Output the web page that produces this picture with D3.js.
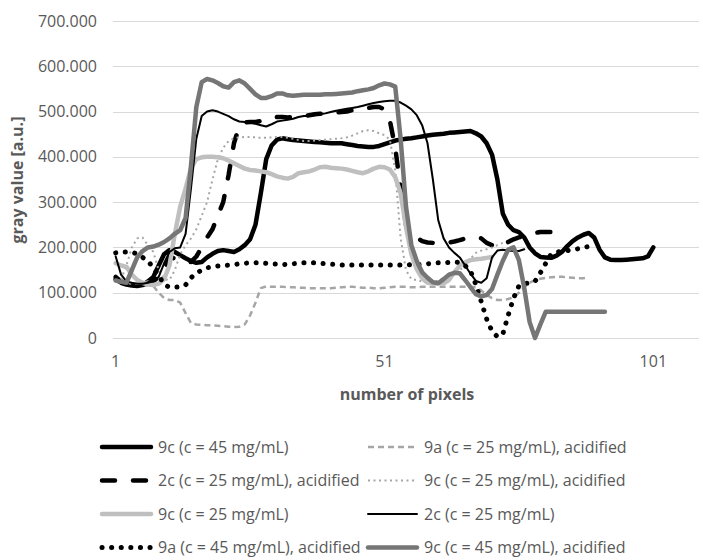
<!DOCTYPE html>
<html>
  <head>
    <meta charset="utf-8">
    <title>gray value profile</title>
    <style>
      body { margin: 0; background: #fff; }
      text { font-family: 'Open Sans', sans-serif; fill: #595959; }
      .tick text { font-size: 16px; }
      .title { font-size: 16px; font-weight: bold; }
      .legend text { font-size: 16px; }
    </style>
  </head>
  <body>
    <div id="chart"></div>
    <script src="https://d3js.org/d3.v7.min.js"></script>
    <script>
      // categories (pixel index) and tick labels
      var categories = d3.range(1, 110);
      var xTickValues = [1, 51, 101];
      var yTickValues = [0, 100, 200, 300, 400, 500, 600, 700];
      var yTickLabels = ['0', '100.000', '200.000', '300.000', '400.000', '500.000', '600.000', '700.000'];

      var seriesNames = [
        '9c (c = 45 mg/mL)',
        '9a (c = 25 mg/mL), acidified',
        '2c (c = 25 mg/mL), acidified',
        '9c (c = 25 mg/mL), acidified',
        '9c (c = 25 mg/mL)',
        '2c (c = 25 mg/mL)',
        '9a (c = 45 mg/mL), acidified',
        '9c (c = 45 mg/mL), acidified'
      ];

      // values from pixel 1 onwards
      var s9c45 = [130,122,118,116,115,117,125,135,160,185,194,190,183,176,170,166,168,178,186,192,
        194,192,190,196,205,218,250,320,395,425,438,441,439,437,436,435,434,433,432,431,
        430,430,430,428,426,424,423,422,422,424,428,432,436,438,440,441,443,445,447,449,
        450,451,453,454,455,456,457,452,445,430,405,350,275,250,238,234,222,200,187,179,
        178,177,182,190,203,214,222,228,232,222,195,178,173,172,172,173,174,175,176,180,200];
      var s9a25acid = [128,125,122,120,120,122,125,115,100,88,84,84,78,55,33,30,29,28,28,27,
        26,25,24,25,30,50,78,110,114,113,113,113,112,112,111,111,110,110,110,110,
        110,111,112,113,113,112,111,111,110,110,111,112,113,113,113,112,112,113,113,113,
        113,113,113,113,113,113,113,112,105,95,88,84,84,86,90,100,113,122,128,131,
        133,134,135,135,134,133,132,132,133];
      var s2c25acid = [135,125,120,118,117,118,120,125,135,150,180,175,170,167,168,180,200,222,240,270,
        300,360,430,468,476,477,477,479,482,486,488,488,487,488,490,490,492,494,495,496,
        497,498,499,500,503,505,507,508,510,510,505,480,420,330,250,230,222,214,211,210,
        210,210,211,213,216,220,222,222,220,210,205,200,205,212,218,222,226,230,232,234,
        234,234];
      var s9c25acid = [125,130,160,200,220,222,205,190,150,130,128,150,185,205,220,240,270,300,350,395,
        420,435,441,443,444,444,443,442,442,443,444,444,442,440,437,435,435,436,437,438,
        439,440,441,443,447,452,457,459,457,452,448,438,370,220,150,130,128,125,124,124,
        127,132,138,144,150,160,175,188,193,196,200,205,210];
      var s9c25 = [165,160,157,140,128,122,118,117,120,130,160,230,290,330,375,395,399,400,400,399,
        397,392,386,380,374,371,370,368,366,362,357,354,352,356,364,366,368,372,377,378,
        376,375,374,372,369,366,364,368,374,378,377,372,355,320,245,185,152,132,122,121,
        121,121,128,145,160,167,172,174,175,177,179];
      var s2c25 = [180,140,125,122,120,120,122,125,135,165,190,198,200,230,330,440,490,500,503,500,
        495,490,483,478,477,476,473,470,467,472,478,480,482,484,488,490,490,492,494,496,
        499,502,504,506,508,510,513,516,519,521,523,524,524,520,513,505,492,470,430,350,
        260,220,200,188,178,160,142,126,122,132,178,193,195,193,192,192,196];
      var s9a45acid = [188,190,190,189,186,178,170,155,138,118,112,112,113,117,133,143,150,155,157,159,
        160,161,162,164,165,166,166,166,165,164,163,162,163,164,165,166,166,166,165,164,
        163,162,161,161,161,161,161,161,161,161,161,161,161,161,161,162,162,163,164,165,
        166,166,167,168,167,160,148,118,80,42,15,3,8,50,88,115,121,121,125,144,
        165,185,190,191,193,195,197,200,202,202];
      var s9c45acid = [127,124,122,150,178,192,200,202,206,212,220,230,238,265,380,510,565,572,569,563,
        556,553,565,569,562,550,538,530,530,534,540,540,536,535,536,537,537,537,537,538,
        538,539,540,541,542,545,547,549,552,558,562,560,555,440,290,205,170,145,133,123,
        121,130,140,144,143,128,112,97,92,95,108,140,170,195,200,172,110,35,0,30,
        58,58,58,58,58,58,58,58,58,58,58,58];

      var seriesValues = [s9c45, s9a25acid, s2c25acid, s9c25acid, s9c25, s2c25, s9a45acid, s9c45acid];

      var styles = [
        { color: '#000000', width: 4.5, dash: null, cap: 'round' },
        { color: '#a6a6a6', width: 2.5, dash: '6 4', cap: 'butt' },
        { color: '#000000', width: 4.5, dash: '13 18', cap: 'round' },
        { color: '#a6a6a6', width: 2, dash: '2 3.5', cap: 'butt' },
        { color: '#bfbfbf', width: 4.5, dash: null, cap: 'round' },
        { color: '#000000', width: 2, dash: null, cap: 'round' },
        { color: '#000000', width: 5, dash: '0.1 9.5', cap: 'round' },
        { color: '#767676', width: 4.5, dash: null, cap: 'round' }
      ];

      (function(d3) {
        'use strict';

        var width = 703, height = 560;
        var plotLeft = 113, plotRight = 699, plotTop = 21, plotBottom = 338;

        var svg = d3.select('#chart').append('svg')
          .attr('width', width)
          .attr('height', height);

        var x = d3.scaleBand().domain(categories).range([plotLeft, plotRight]);
        var y = d3.scaleLinear().domain([0, 700]).range([plotBottom, plotTop]);
        var cx = function(i) { return x(i) + x.bandwidth() / 2; };

        // gridlines
        svg.append('g').selectAll('line')
          .data(yTickValues)
          .enter().append('line')
          .attr('x1', plotLeft).attr('x2', plotRight)
          .attr('y1', function(d) { return Math.round(y(d)) + 0.5; })
          .attr('y2', function(d) { return Math.round(y(d)) + 0.5; })
          .attr('stroke', '#d9d9d9')
          .attr('stroke-width', 1);

        var yAxis = svg.append('g')
          .attr('transform', 'translate(' + plotLeft + ',0)')
          .call(d3.axisLeft(y).tickValues(yTickValues).tickSize(0).tickPadding(16)
            .tickFormat(function(d, i) { return yTickLabels[i]; }));
        yAxis.select('.domain').remove();

        var xAxis = svg.append('g')
          .attr('transform', 'translate(0,' + plotBottom + ')')
          .call(d3.axisBottom(x).tickValues(xTickValues).tickSize(0).tickPadding(18));
        xAxis.select('.domain').remove();

        svg.selectAll('.tick text').attr('fill', '#595959').style('font-family', "'Open Sans', sans-serif");

        svg.append('text')
          .attr('class', 'title')
          .attr('x', 407).attr('y', 400)
          .attr('text-anchor', 'middle')
          .text('number of pixels');

        svg.append('text')
          .attr('class', 'title')
          .attr('transform', 'translate(23,180) rotate(-90)')
          .attr('text-anchor', 'middle')
          .text('gray value [a.u.]');

        var line = d3.line()
          .defined(function(d) { return d != null; })
          .x(function(d, i) { return cx(categories[i]); })
          .y(function(d) { return y(d); });

        seriesValues.forEach(function(vals, k) {
          var st = styles[k];
          svg.append('path')
            .datum(vals)
            .attr('d', line)
            .attr('fill', 'none')
            .attr('stroke', st.color)
            .attr('stroke-width', st.width)
            .attr('stroke-linejoin', 'round')
            .attr('stroke-linecap', st.cap)
            .attr('stroke-dasharray', st.dash);
        });

        // legend, 2 columns
        var legend = svg.selectAll('.legend')
          .data(seriesNames)
          .enter().append('g')
          .attr('class', 'legend')
          .attr('transform', function(d, i) {
            var col = i % 2, row = Math.floor(i / 2);
            return 'translate(' + (100 + col * 266) + ',' + (447 + row * 33.5) + ')';
          });

        legend.append('line')
          .attr('x1', 2).attr('x2', 51)
          .attr('y1', 0).attr('y2', 0)
          .attr('stroke', function(d, i) { return styles[i].color; })
          .attr('stroke-width', function(d, i) { return styles[i].width; })
          .attr('stroke-linecap', function(d, i) { return styles[i].cap; })
          .attr('stroke-dasharray', function(d, i) { return styles[i].dash; });

        legend.append('text')
          .attr('x', 58)
          .attr('y', 0)
          .attr('dy', '0.35em')
          .text(function(d) { return d; });
      })(window.d3);
    </script>
  </body>
</html>
